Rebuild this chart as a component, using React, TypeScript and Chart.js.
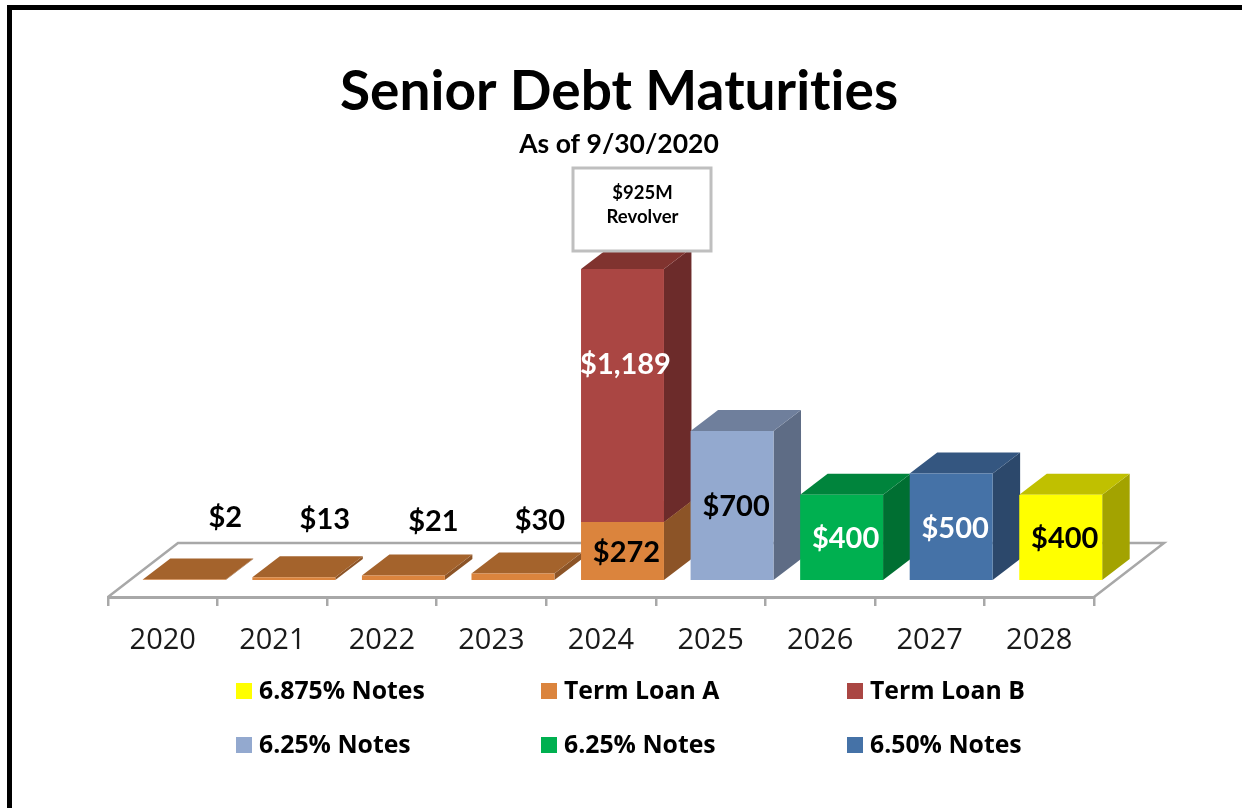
import React, { useEffect, useRef } from "react";
import { Chart, registerables } from "chart.js";

Chart.register(...registerables);

const years = ["2020", "2021", "2022", "2023", "2024", "2025", "2026", "2027", "2028"];
const notes6875 = [null, null, null, null, null, null, null, null, 400];
const termLoanA = [2, 13, 21, 30, 272, null, null, null, null];
const termLoanB = [null, null, null, null, 1189, null, null, null, null];
const notes625a = [null, null, null, null, null, 700, null, null, null];
const notes625b = [null, null, null, null, null, null, 400, null, null];
const notes650 = [null, null, null, null, null, null, null, 500, null];

const seriesNames = ["6.875% Notes", "Term Loan A", "Term Loan B", "6.25% Notes", "6.25% Notes", "6.50% Notes"];
const frontColors = ["#FFFF00", "#DB843D", "#AA4643", "#93A9CF", "#00B050", "#4572A7"];
const topColors = ["#C0C000", "#A4632C", "#80332F", "#6F7F9C", "#00843C", "#345680"];
const sideColors = ["#A3A300", "#8C5427", "#6C2B2A", "#5E6C85", "#006F32", "#2C486B"];
const labelColors = ["#000000", "#000000", "#FFFFFF", "#000000", "#FFFFFF", "#FFFFFF"];

const SHIFT_X = 21.5;
const SHIFT_Y = -17;
const DEPTH_X = 27.5;
const DEPTH_Y = -21;
const FLOOR_DX = 70;
const FLOOR_DY = -54;

function poly(ctx: CanvasRenderingContext2D, pts: number[][], fill: string) {
  ctx.beginPath();
  pts.forEach((p, i) => (i ? ctx.lineTo(p[0], p[1]) : ctx.moveTo(p[0], p[1])));
  ctx.closePath();
  ctx.fillStyle = fill;
  ctx.fill();
}

const dataset = (i: number, data: (number | null)[]) => ({
  label: seriesNames[i],
  data,
  backgroundColor: frontColors[i],
  borderWidth: 0,
  clip: false as const,
  barPercentage: 0.757,
  categoryPercentage: 1,
});

const labelNudge: Record<string, number[]> = {
  "1:0": [41, -8],
  "1:1": [31, -6],
  "1:2": [30, -4],
  "1:3": [27, -5],
  "2:4": [3, -31],
};

const bars3d = {
  id: "bars3d",
  beforeDraw(chart: any) {
    const { ctx } = chart;
    ctx.textRendering = "optimizeSpeed";
    ctx.save();
    ctx.strokeStyle = "#000";
    ctx.lineWidth = 5;
    ctx.strokeRect(9.5, 7.5, 1400, 1000);
    ctx.restore();
  },
  afterLayout(chart: any) {
    chart.titleBlock.right += 36;
    const sub = chart.boxes.find((b: any) => b !== chart.titleBlock && b.options && b.options.text === "As of 9/30/2020");
    if (sub) sub.right += 36;
  },
  beforeDatasetsDraw(chart: any) {
    const { ctx, chartArea: a } = chart;
    ctx.save();
    ctx.strokeStyle = "#A8A8A8";
    ctx.lineWidth = 2.5;
    ctx.beginPath();
    ctx.moveTo(a.left, a.bottom);
    ctx.lineTo(a.left + FLOOR_DX, a.bottom + FLOOR_DY);
    ctx.lineTo(a.right + FLOOR_DX, a.bottom + FLOOR_DY);
    ctx.lineTo(a.right, a.bottom);
    ctx.stroke();
    ctx.restore();

    ctx.save();
    ctx.translate(SHIFT_X, SHIFT_Y);
    chart.data.datasets.forEach((ds: any, i: number) => {
      chart.getDatasetMeta(i).data.forEach((el: any, j: number) => {
        if (ds.data[j] == null) return;
        const L = el.x - el.width / 2;
        const R = el.x + el.width / 2;
        poly(ctx, [[R, el.y], [R + DEPTH_X, el.y + DEPTH_Y], [R + DEPTH_X, el.base + DEPTH_Y], [R, el.base]], sideColors[i]);
        poly(ctx, [[L, el.y], [L + DEPTH_X, el.y + DEPTH_Y], [R + DEPTH_X, el.y + DEPTH_Y], [R, el.y]], topColors[i]);
      });
    });
  },
  afterDatasetsDraw(chart: any) {
    const { ctx } = chart;
    ctx.restore();

    ctx.save();
    ctx.textAlign = "center";
    ctx.textBaseline = "middle";
    ctx.font = "bold 29px Lato";
    chart.data.datasets.forEach((ds: any, i: number) => {
      chart.getDatasetMeta(i).data.forEach((el: any, j: number) => {
        const v = ds.data[j];
        if (v == null) return;
        const n = labelNudge[`${i}:${j}`] || [4, 1.5];
        const small = i === 1 && j < 4;
        const cy = small ? 597 + SHIFT_Y + FLOOR_DY + n[1] : (el.y + el.base) / 2 + SHIFT_Y + n[1];
        ctx.fillStyle = labelColors[i];
        ctx.fillText("$" + v.toLocaleString("en-US"), el.x + SHIFT_X + n[0], cy);
      });
    });

    // Revolver call-out above the 2024 column
    ctx.fillStyle = "#FFFFFF";
    ctx.strokeStyle = "#BFBFBF";
    ctx.lineWidth = 3;
    ctx.fillRect(573, 168, 138, 83);
    ctx.strokeRect(573, 168, 138, 83);
    ctx.fillStyle = "#000";
    ctx.font = "bold 18.5px Lato";
    ctx.fillText("$925M", 642.5, 193);
    ctx.fillText("Revolver", 642.5, 217);

    // Legend laid out as a three-column grid
    const cols = [236, 541, 847];
    const rows = [691, 745];
    ctx.textAlign = "left";
    ctx.font = "bold 24.8px 'Open Sans'";
    chart.data.datasets.forEach((ds: any, i: number) => {
      const x = cols[i % 3];
      const y = rows[Math.floor(i / 3)];
      ctx.fillStyle = frontColors[i];
      ctx.fillRect(x, y - 8, 16, 16);
      ctx.fillStyle = "#000";
      ctx.fillText(ds.label, x + 23, y + 0.5);
    });
    ctx.restore();
  },
};

export default function App() {
  const ref = useRef<HTMLCanvasElement>(null);
  useEffect(() => {
    const chart = new Chart(ref.current!, {
      type: "bar",
      data: {
        labels: years,
        datasets: [
          dataset(0, notes6875),
          dataset(1, termLoanA),
          dataset(2, termLoanB),
          dataset(3, notes625a),
          dataset(4, notes625b),
          dataset(5, notes650),
        ],
      },
      options: {
        animation: false,
        responsive: false,
        devicePixelRatio: 1,
        layout: { padding: { left: 108, right: 148, top: 0, bottom: 0 } },
        plugins: {
          legend: { display: false },
          tooltip: { enabled: false },
          title: {
            display: true,
            text: "Senior Debt Maturities",
            color: "#000",
            font: { family: "Lato", size: 55, weight: "bold", lineHeight: 1.2 },
            padding: { top: 59, bottom: 0 },
          },
          subtitle: {
            display: true,
            text: "As of 9/30/2020",
            color: "#000",
            font: { family: "Lato", size: 26.5, weight: "bold", lineHeight: 1.2 },
            padding: { top: 4, bottom: 10.4 },
          },
        },
        scales: {
          x: {
            stacked: true,
            afterFit: (s: any) => {
              s.height = 211;
            },
            border: { color: "#A8A8A8", width: 3 },
            grid: { drawOnChartArea: false, color: "#A8A8A8", lineWidth: 2.5, tickLength: 9 },
            ticks: {
              color: "#1a1a1a",
              font: { family: "Open Sans", size: 29 },
              padding: 17,
              autoSkip: false,
              maxRotation: 0,
            },
          },
          y: { stacked: true, display: false, min: 0, max: 2000 },
        },
      },
      plugins: [bars3d],
    } as any);
    return () => chart.destroy();
  }, []);
  return <canvas ref={ref} width={1242} height={808} style={{ position: "fixed", left: 0, top: 0, width: 1242, height: 808 }} />;
}
